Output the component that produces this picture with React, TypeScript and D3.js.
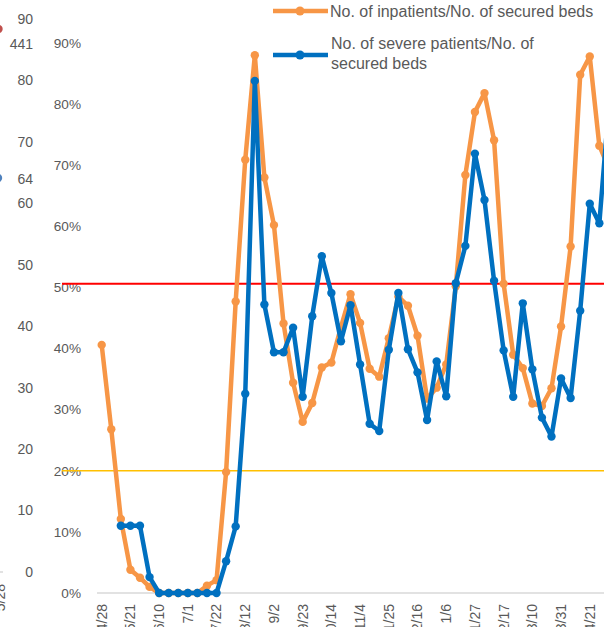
import React from 'react';
import * as d3 from 'd3';

// weekly report dates (x categories)
const dates = [
    '4/28', '5/7', '5/14', '5/21', '5/27', '6/3', '6/10', '6/17', '6/24', '7/1',
    '7/8', '7/15', '7/22', '7/29', '8/5', '8/12', '8/19', '8/26', '9/2', '9/9',
    '9/16', '9/23', '9/30', '10/7', '10/14', '10/21', '10/28', '11/4', '11/11', '11/18',
    '11/25', '12/2', '12/9', '12/16', '12/23', '12/30', '1/6', '1/13', '1/20', '1/27',
    '2/3', '2/10', '2/17', '2/24', '3/3', '3/10', '3/17', '3/24', '3/31', '4/7',
    '4/14', '4/21', '4/28', '5/5'
];

// No. of inpatients / No. of secured beds (%)
const inpatientRatio = [
    40.6, 26.8, 12.1, 3.8, 2.5, 1.0, 0, 0, 0, 0,
    0, 1.2, 2.1, 19.8, 47.7, 70.9, 88.0, 68.0, 60.2, 44.1,
    34.4, 28.0, 31.1, 36.9, 37.7, 43.5, 48.9, 44.2, 36.7, 35.4,
    41.7, 48.5, 47.0, 42.1, 31.8, 33.6, 37.4, 50.2, 68.4, 78.7,
    81.8, 74.1, 50.6, 39.0, 36.8, 31.0, 30.6, 33.5, 43.6, 56.7,
    84.8, 87.8, 73.2, 69.5
];

// No. of severe patients / No. of secured beds (%)
const severeRatio: (number | null)[] = [
    null, null, 11.0, 11.0, 11.0, 2.6, 0, 0, 0, 0,
    0, 0, 0, 5.2, 10.9, 32.6, 83.8, 47.2, 39.4, 39.4,
    43.4, 32.1, 45.3, 55.1, 49.1, 41.2, 47.1, 37.4, 27.7, 26.5,
    39.8, 49.1, 39.9, 36.1, 28.3, 37.9, 32.2, 50.7, 56.8, 71.9,
    64.3, 51.1, 39.7, 32.1, 47.4, 36.6, 28.7, 25.6, 35.1, 31.9,
    46.2, 63.7, 60.5, 80.0
];

const pctTicks = [0, 10, 20, 30, 40, 50, 60, 70, 80, 90];
const leftTicks = [0, 10, 20, 30, 40, 50, 60, 70, 80, 90];
const thresholds = [
    { value: 50.6, color: '#FF0000', width: 2 },
    { value: 20, color: '#FFC000', width: 1.6 }
];

const ORANGE = '#F79646';
const BLUE = '#0070C0';
const GRAY = '#595959';
const FONT = '"Liberation Sans", Arial, sans-serif';

const App: React.FC = () => {
    const width = 604;
    const height = 627;

    const idx = dates.map((_, i) => i);
    const x = d3.scalePoint<number>()
        .domain(idx)
        .range([101.7, 101.7 + 9.57 * (dates.length - 1)]);

    const y = d3.scaleLinear().domain([0, 90]).range([593, 43]);
    // neighbouring chart's axis, partly visible on the left
    const yLeft = d3.scaleLinear().domain([0, 90]).range([572, 19]);

    const line = d3.line<number | null>()
        .defined(d => d != null)
        .x((_, i) => x(i) || 0)
        .y(d => y(d as number));

    const series = [
        { name: 'inpatients', values: inpatientRatio as (number | null)[], color: ORANGE },
        { name: 'severe', values: severeRatio, color: BLUE }
    ];

    return (
        <svg
            width={width}
            height={height}
            style={{ position: 'fixed', left: 0, top: 0, background: '#fff', overflow: 'hidden' }}
            fontFamily={FONT}
        >
            {/* left neighbour axis */}
            {leftTicks.map(t => (
                <text key={'l' + t} x={33} y={yLeft(t)} dy="0.35em" textAnchor="end" fontSize={14} fill={GRAY}>{t}</text>
            ))}
            <text x={33} y={44} dy="0.35em" textAnchor="end" fontSize={14} fill={GRAY}>441</text>
            <text x={33} y={179} dy="0.35em" textAnchor="end" fontSize={14} fill={GRAY}>64</text>
            <circle cx={-1.5} cy={29} r={4.2} fill="#C0504D" />
            <circle cx={-2} cy={178} r={4.2} fill="#4F81BD" />
            <line x1={0} x2={3} y1={572} y2={572} stroke="#D9D9D9" strokeWidth={1.5} />
            <text transform="translate(0,584) rotate(-90)" dy="0.35em" textAnchor="end" fontSize={14} fill={GRAY}>5/28</text>

            {/* percentage axis */}
            {pctTicks.map(t => (
                <text key={'p' + t} x={81} y={y(t)} dy="0.35em" textAnchor="end" fontSize={13.6} fill={GRAY}>{t}%</text>
            ))}

            {/* baseline */}
            <line x1={97} x2={width} y1={y(0)} y2={y(0)} stroke="#D9D9D9" strokeWidth={1.5} />

            {/* x labels */}
            {idx.filter(i => i % 3 === 0).map(i => (
                <text
                    key={'x' + i}
                    transform={`translate(${x(i)},604) rotate(-90)`}
                    dy="0.35em"
                    textAnchor="end"
                    fontSize={14}
                    fill={GRAY}
                >{dates[i]}</text>
            ))}

            {/* threshold lines */}
            {thresholds.map(t => (
                <line key={'t' + t.value} x1={62} x2={width} y1={y(t.value)} y2={y(t.value)} stroke={t.color} strokeWidth={t.width} />
            ))}

            {/* series */}
            {series.map(s => (
                <g key={s.name}>
                    <path d={line(s.values) || ''} fill="none" stroke={s.color} strokeWidth={4.5} strokeLinejoin="round" />
                    {s.values.map((v, i) => v == null ? null : (
                        <circle key={i} cx={x(i)} cy={y(v)} r={4.2} fill={s.color} />
                    ))}
                </g>
            ))}

            {/* legend */}
            <g>
                <line x1={273} x2={328} y1={11} y2={11} stroke={ORANGE} strokeWidth={4.5} />
                <circle cx={300} cy={11} r={4.5} fill={ORANGE} />
                <text x={330} y={11} dy="0.35em" fontSize={16} fill={GRAY}>No. of inpatients/No. of secured beds</text>
                <line x1={273} x2={328} y1={55} y2={55} stroke={BLUE} strokeWidth={4.5} />
                <circle cx={300} cy={55} r={4.5} fill={BLUE} />
                <text x={331} y={43} dy="0.35em" fontSize={16} fill={GRAY}>No. of severe patients/No. of</text>
                <text x={331} y={63} dy="0.35em" fontSize={16} fill={GRAY}>secured beds</text>
            </g>
        </svg>
    );
};

export default App;
